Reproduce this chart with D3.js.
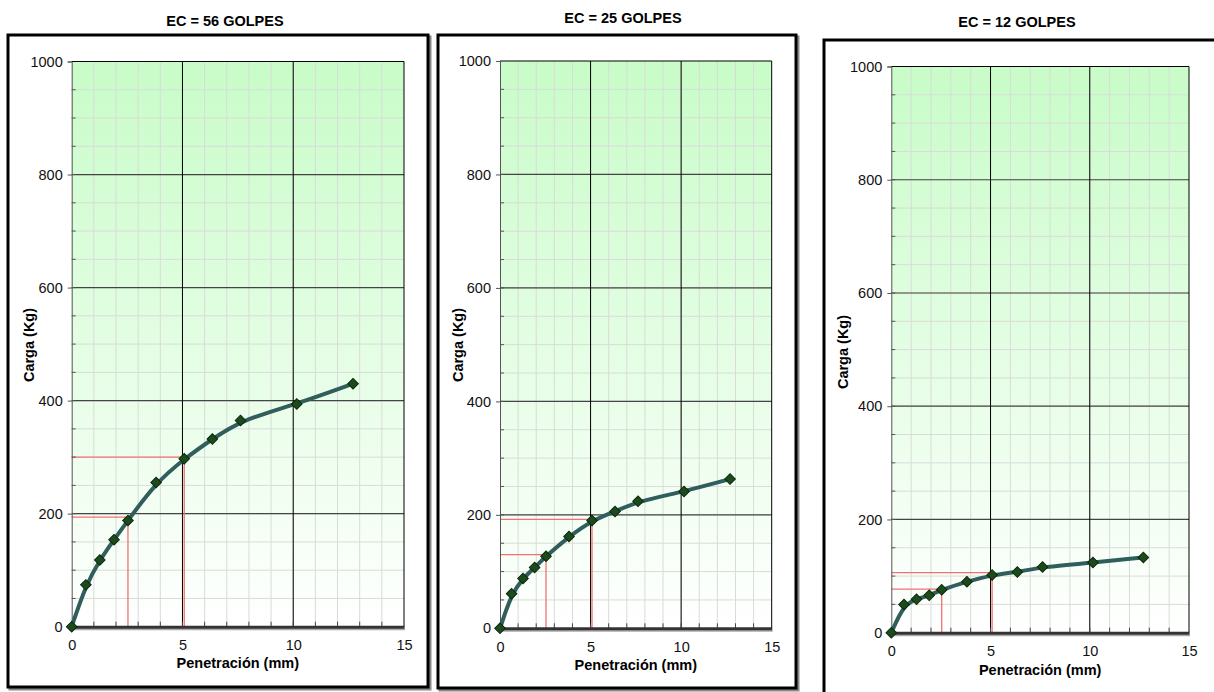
<!DOCTYPE html>
<html lang="es">
<head>
<meta charset="UTF-8">
<script src="https://d3js.org/d3.v7.min.js"></script>
<style>
  body { margin: 0; background: #fff; font-family: "Liberation Sans", Arial, sans-serif; overflow: hidden; }
  .tick text { font-family: "Liberation Sans", Arial, sans-serif; }
</style>
</head>
<body>
<svg id="chart" width="1214" height="692"></svg>
<script>
// datos
const penetracion = [0, 0.64, 1.27, 1.91, 2.54, 3.81, 5.08, 6.35, 7.62, 10.16, 12.70];
const carga56 = [0, 74, 118, 154, 188, 255, 297, 332, 365, 394, 430];
const carga25 = [0, 61, 88, 107, 127, 162, 190, 206, 224, 241, 263];
const carga12 = [0, 50, 59, 66, 76, 90, 102, 107, 116, 124, 133];
const titulos = ["EC = 56 GOLPES", "EC = 25 GOLPES", "EC = 12 GOLPES"];
const lectura56 = [[2.54, 194], [5.08, 300]];
const lectura25 = [[2.54, 130], [5.08, 192]];
const lectura12 = [[2.54, 77], [5.08, 106]];
const xTicks = [0, 5, 10, 15];
const yTicks = [0, 200, 400, 600, 800, 1000];

const paneles = [
  {titulo: titulos[0], carga: carga56, lectura: lectura56,
   frame: {x: 8, y: 35, w: 420, h: 652}, plot: {l: 71.7, r: 404, t: 61.5, b: 626.7},
   titleY: 26, titleX: 225, ylabX: 34, ylabY: 345, xlabY: 668},
  {titulo: titulos[1], carga: carga25, lectura: lectura25,
   frame: {x: 438, y: 35, w: 358, h: 653}, plot: {l: 500, r: 771.7, t: 61, b: 628.3},
   titleY: 23, titleX: 623, ylabX: 463, ylabY: 345, xlabY: 670},
  {titulo: titulos[2], carga: carga12, lectura: lectura12,
   frame: {x: 824, y: 40, w: 392, h: 670}, plot: {l: 891.3, r: 1189, t: 66.5, b: 632.7},
   titleY: 27, titleX: 1017, ylabX: 848, ylabY: 352, xlabY: 675}
];

const svg = d3.select("#chart");
const defs = svg.append("defs");
const grad = defs.append("linearGradient").attr("id", "fondo")
  .attr("x1", 0).attr("y1", 0).attr("x2", 0).attr("y2", 1);
grad.append("stop").attr("offset", "0%").attr("stop-color", "#c8fcc8");
grad.append("stop").attr("offset", "100%").attr("stop-color", "#ffffff");

paneles.forEach(p => {
  const g = svg.append("g");
  const pl = p.plot;

  g.append("text").attr("x", p.titleX).attr("y", p.titleY)
    .attr("text-anchor", "middle").attr("font-size", 14.5).attr("font-weight", "bold")
    .text(p.titulo);

  g.append("rect").attr("x", p.frame.x + 2).attr("y", p.frame.y + 2)
    .attr("width", p.frame.w).attr("height", p.frame.h)
    .attr("fill", "none").attr("stroke", "#888").attr("stroke-width", 3);
  g.append("rect").attr("x", p.frame.x).attr("y", p.frame.y)
    .attr("width", p.frame.w).attr("height", p.frame.h)
    .attr("fill", "#fff").attr("stroke", "#000").attr("stroke-width", 3);

  const x = d3.scaleLinear().domain([0, 15]).range([pl.l, pl.r]);
  const y = d3.scaleLinear().domain([0, 1000]).range([pl.b, pl.t]);

  g.append("rect").attr("x", pl.l).attr("y", pl.t)
    .attr("width", pl.r - pl.l).attr("height", pl.b - pl.t)
    .attr("fill", "url(#fondo)");

  // rejilla menor
  g.append("g").selectAll("line").data(d3.range(1, 15)).join("line")
    .attr("x1", d => x(d)).attr("x2", d => x(d)).attr("y1", pl.t).attr("y2", pl.b)
    .attr("stroke", "#d8dcd8").attr("stroke-width", 1);
  g.append("g").selectAll("line").data(d3.range(50, 1000, 50)).join("line")
    .attr("x1", pl.l).attr("x2", pl.r).attr("y1", d => y(d)).attr("y2", d => y(d))
    .attr("stroke", "#d8dcd8").attr("stroke-width", 1);

  // rejilla mayor
  g.append("g").selectAll("line").data(yTicks.slice(1)).join("line")
    .attr("x1", pl.l).attr("x2", pl.r).attr("y1", d => y(d)).attr("y2", d => y(d))
    .attr("stroke", d => d === 1000 ? "#000" : "#444").attr("stroke-width", 1.2);
  g.append("g").selectAll("line").data(xTicks.slice(1)).join("line")
    .attr("x1", d => x(d)).attr("x2", d => x(d)).attr("y1", pl.t).attr("y2", pl.b)
    .attr("stroke", "#000").attr("stroke-width", 1);

  // lecturas
  p.lectura.forEach(([px, py]) => {
    g.append("line").attr("x1", pl.l).attr("x2", x(px)).attr("y1", y(py)).attr("y2", y(py))
      .attr("stroke", "#f47070").attr("stroke-width", 1.3);
    g.append("line").attr("x1", x(px)).attr("x2", x(px)).attr("y1", pl.b).attr("y2", y(py))
      .attr("stroke", "#f47070").attr("stroke-width", 1.3);
  });

  // eje y
  const ay = g.append("g").attr("transform", `translate(${pl.l},0)`)
    .call(d3.axisLeft(y).tickValues(yTicks).tickSize(4).tickPadding(5).tickFormat(d3.format("d")));
  ay.select(".domain").attr("stroke", "#555");
  ay.selectAll("text").attr("font-size", 14.5).attr("fill", "#111");
  ay.selectAll("line").attr("stroke", "#555");
  g.append("g").selectAll("line").data(d3.range(50, 1000, 50)).join("line")
    .attr("x1", pl.l).attr("x2", pl.l + 4).attr("y1", d => y(d)).attr("y2", d => y(d))
    .attr("stroke", "#555");

  // eje x
  g.append("g").selectAll("line").data(d3.range(1, 15)).join("line")
    .attr("x1", d => x(d)).attr("x2", d => x(d)).attr("y1", pl.b).attr("y2", pl.b - 5)
    .attr("stroke", "#444");
  g.append("line").attr("x1", pl.l).attr("x2", pl.r + 1).attr("y1", pl.b + 2.5).attr("y2", pl.b + 2.5)
    .attr("stroke", "#aaa").attr("stroke-width", 2);
  const ax = g.append("g").attr("transform", `translate(0,${pl.b})`)
    .call(d3.axisBottom(x).tickValues(xTicks).tickSize(0).tickPadding(13));
  ax.select(".domain").attr("stroke", "#333").attr("stroke-width", 3);
  ax.selectAll("text").attr("font-size", 14.5).attr("fill", "#111");

  g.append("text").attr("x", (pl.l + pl.r) / 2).attr("y", p.xlabY)
    .attr("text-anchor", "middle").attr("font-size", 14.5).attr("font-weight", "bold")
    .text("Penetración (mm)");
  g.append("text").attr("transform", `translate(${p.ylabX},${p.ylabY}) rotate(-90)`)
    .attr("text-anchor", "middle").attr("font-size", 14.5).attr("font-weight", "bold")
    .text("Carga (Kg)");

  const pts = penetracion.map((d, i) => [d, p.carga[i]]);
  g.append("path").datum(pts)
    .attr("d", d3.line().x(d => x(d[0])).y(d => y(d[1])).curve(d3.curveBasis))
    .attr("fill", "none").attr("stroke", "#2f5e5c").attr("stroke-width", 4);

  g.append("g").selectAll("path").data(pts).join("path")
    .attr("transform", d => `translate(${x(d[0])},${y(d[1])}) rotate(45)`)
    .attr("d", d3.symbol().type(d3.symbolSquare).size(56))
    .attr("fill", "#1d4a1d").attr("stroke", "#0a2a0a").attr("stroke-width", 1);
});
</script>
</body>
</html>
